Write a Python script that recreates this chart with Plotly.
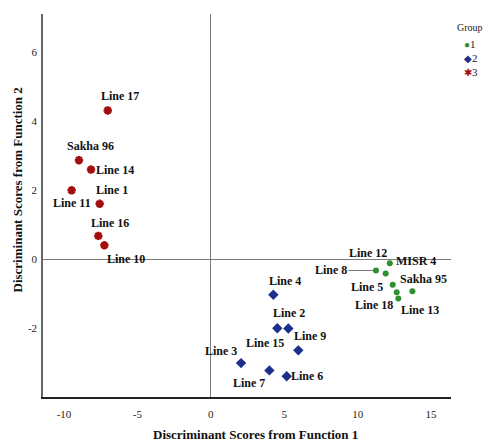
import plotly.graph_objects as go

# Discriminant scores (Function 1, Function 2) per genotype, by group
g1_names = ["MISR 4", "Line 8", "Line 12", "Line 5", "Line 18", "Line 13", "Sakha 95"]
g1_f1 = [12.19, 11.25, 11.91, 12.39, 12.66, 12.77, 13.73]
g1_f2 = [-0.12, -0.33, -0.42, -0.74, -0.96, -1.14, -0.93]

g2_names = ["Line 4", "Line 2", "Line 15", "Line 9", "Line 3", "Line 7", "Line 6"]
g2_f1 = [4.26, 4.53, 5.28, 5.96, 2.06, 3.99, 5.17]
g2_f2 = [-1.03, -2.00, -2.01, -2.64, -3.01, -3.22, -3.39]

g3_names = ["Line 17", "Sakha 96", "Line 14", "Line 11", "Line 1", "Line 16", "Line 10"]
g3_f1 = [-7.02, -8.98, -8.16, -9.48, -7.57, -7.66, -7.25]
g3_f2 = [4.30, 2.86, 2.59, 1.99, 1.60, 0.67, 0.40]

x_ticks = [-10, -5, 0, 5, 10, 15]
x_tick_labels = ["-10", "-5", "0", "5", "10", "15"]
y_ticks = [-4, -2, 0, 2, 4, 6]
y_tick_labels = ["-4", "-2", "0", "2", "4", "6"]

# Pixel offsets of each point label (x right, y up)
label_offsets = {
    "Line 17": (12, 14), "Sakha 96": (12, 14), "Line 14": (24, 0),
    "Line 11": (0, -13), "Line 1": (12, 14), "Line 16": (12, 13),
    "Line 10": (22, -14),
    "Line 4": (12, 14), "Line 2": (12, 15), "Line 15": (-23, -14),
    "Line 9": (12, 14), "Line 3": (-20, 12), "Line 7": (-20, -13),
    "Line 6": (20, 0),
    "MISR 4": (26, 2), "Line 12": (-18, 21), "Line 5": (-26, -2),
    "Line 18": (-23, -13), "Line 13": (22, -12), "Sakha 95": (11, 12),
    "Line 8": (-45, 0),
}

GREEN = "#2f8f2f"
BLUE = "#1c2f8c"
RED = "#a30d0d"
FONT = "Liberation Serif"

groups = [
    ("1", g1_names, g1_f1, g1_f2, dict(symbol="circle", size=6, color=GREEN)),
    ("2", g2_names, g2_f1, g2_f2, dict(symbol="diamond", size=8, color=BLUE)),
    ("3", g3_names, g3_f1, g3_f2,
     dict(symbol="asterisk-open", size=7, color=RED, line=dict(color=RED, width=2.5))),
]

fig = go.Figure()
annotations = []
for gname, names, xs, ys, marker in groups:
    fig.add_trace(go.Scatter(x=xs, y=ys, mode="markers", name=gname,
                             marker=marker, showlegend=False, hoverinfo="skip"))
    for n, xv, yv in zip(names, xs, ys):
        dx, dy = label_offsets[n]
        if n == "Line 8":
            # label joined to its point by a leader line
            annotations.append(dict(x=xv, y=yv, text="<b>%s</b>" % n, showarrow=True,
                                    arrowhead=0, arrowwidth=1.2, arrowcolor="#777777",
                                    ax=dx, ay=-dy, standoff=3,
                                    font=dict(family=FONT, size=12, color="#111111")))
        else:
            annotations.append(dict(x=xv, y=yv, text="<b>%s</b>" % n, showarrow=False,
                                    xshift=dx, yshift=dy,
                                    font=dict(family=FONT, size=12, color="#111111")))

# Axis titles
annotations.append(dict(xref="paper", yref="paper", x=0.5, y=0, xanchor="center",
                        yanchor="middle", xshift=8, yshift=-37, showarrow=False,
                        text="<b>Discriminant Scores from Function 1</b>",
                        font=dict(family=FONT, size=13, color="#111111")))
annotations.append(dict(xref="paper", yref="paper", x=0, y=0.5, xanchor="center",
                        yanchor="middle", xshift=-26, yshift=15, showarrow=False,
                        textangle=-90,
                        text="<b>Discriminant Scores from Function 2</b>",
                        font=dict(family=FONT, size=13, color="#111111")))

# Legend block at the upper right
legend_items = [("1", "●", GREEN), ("2", "◆", BLUE), ("3", "✱", RED)]
annotations.append(dict(xref="paper", yref="paper", x=1.0, y=1.0, xanchor="left",
                        yanchor="middle", xshift=4, yshift=-13, showarrow=False,
                        text="Group", font=dict(family=FONT, size=10, color="#222222")))
for i, (lab, sym, col) in enumerate(legend_items):
    annotations.append(dict(xref="paper", yref="paper", x=1.0, y=1.0, xanchor="left",
                            yanchor="middle", xshift=11, yshift=-30 - 14 * i,
                            showarrow=False,
                            text='<span style="color:%s;font-size:10px">%s</span>%s'
                                 % (col, sym, lab),
                            font=dict(family=FONT, size=11, color="#222222")))

fig.update_layout(
    width=484, height=441,
    margin=dict(l=43, r=33, t=14, b=44),
    paper_bgcolor="white", plot_bgcolor="white",
    font=dict(family=FONT, color="#222222"),
    annotations=annotations,
    showlegend=False,
)
fig.update_xaxes(
    range=[-11.43, 16.36], tickvals=x_ticks, ticktext=x_tick_labels, ticks="",
    showgrid=False, showline=True, linecolor="#222222", linewidth=1.5,
    automargin=False,
    zeroline=True, zerolinecolor="#7a7a7a", zerolinewidth=1.2,
    ticklabelstandoff=6,
    tickfont=dict(family=FONT, size=11, color="#222222"),
)
fig.update_yaxes(
    range=[-3.99, 7.09], tickvals=y_ticks, ticktext=y_tick_labels, ticks="",
    showgrid=False, showline=True, linecolor="#666666", linewidth=1.5,
    automargin=False,
    zeroline=True, zerolinecolor="#7a7a7a", zerolinewidth=1.2,
    ticklabelstandoff=2,
    tickfont=dict(family=FONT, size=11, color="#222222"),
)

fig.write_html("out.html")
